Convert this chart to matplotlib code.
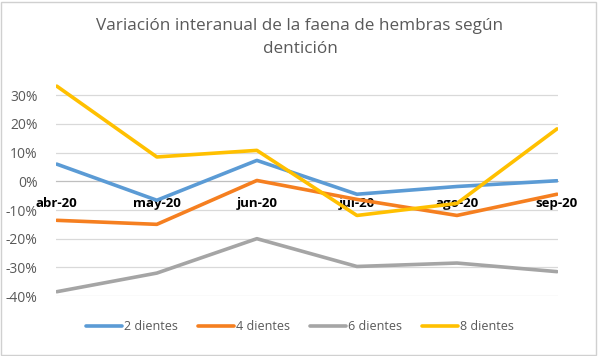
import matplotlib

matplotlib.use("Agg")
import matplotlib.pyplot as plt
from matplotlib.patches import Rectangle
from matplotlib.ticker import FuncFormatter

meses = ["abr-20", "may-20", "jun-20", "jul-20", "ago-20", "sep-20"]
series = ["2 dientes", "4 dientes", "6 dientes", "8 dientes"]
dientes_2 = [6.0, -6.6, 7.3, -4.5, -1.8, 0.2]
dientes_4 = [-13.6, -15.0, 0.3, -6.3, -11.9, -4.5]
dientes_6 = [-38.5, -32.0, -20.0, -29.7, -28.5, -31.5]
dientes_8 = [33.2, 8.5, 10.8, -11.9, -7.7, 18.3]
colores = ["#5B9BD5", "#F57F20", "#A5A5A5", "#FFC000"]
yticks = [30, 20, 10, 0, -10, -20, -30, -40]

plt.rcParams["font.family"] = ["Open Sans", "DejaVu Sans"]

fig = plt.figure(figsize=(6.0, 3.56), dpi=100)
fig.patch.set_facecolor("white")
fig.patches.append(Rectangle((0.002, 0.004), 0.992, 0.99, transform=fig.transFigure,
                             fill=False, edgecolor="#D0D0D0", linewidth=1))

ax = fig.add_axes([0.093, 0.1685, 0.837, 0.604])
x = list(range(len(meses)))
for valores, nombre, color in zip([dientes_2, dientes_4, dientes_6, dientes_8], series, colores):
    ax.plot(x, valores, color=color, linewidth=2.6, label=nombre, solid_capstyle="round", zorder=3)

ax.set_xlim(-0.01, len(meses) - 0.99)
ax.set_ylim(-40, 35)
ax.set_yticks(yticks)
ax.yaxis.set_major_formatter(FuncFormatter(lambda v, _: f"{v:.0f}%"))
ax.grid(axis="y", color="#D9D9D9", linewidth=0.9, zorder=0)
ax.tick_params(axis="y", length=0, labelsize=10, labelcolor="#595959", pad=13)

ax.spines["bottom"].set_position(("data", 0))
ax.spines["bottom"].set_color("#BFBFBF")
for s in ["left", "right", "top"]:
    ax.spines[s].set_visible(False)
ax.set_xticks(x)
ax.set_xticklabels(meses, fontweight="bold", fontsize=9.5, color="black")
ax.tick_params(axis="x", length=0, pad=11)
for lab in ax.get_xticklabels():
    lab.set_zorder(5)

fig.suptitle("Variación interanual de la faena de hembras según\ndentición",
             x=0.5, y=0.95, fontsize=12.3, color="#595959", linespacing=1.6)

fig.legend(loc="center", bbox_to_anchor=(0.5, 0.082), ncol=4, frameon=False,
           fontsize=9, handlelength=2.9, columnspacing=1.6, handletextpad=0.15,
           labelcolor="#595959")

fig.savefig("out.png", dpi=100)
